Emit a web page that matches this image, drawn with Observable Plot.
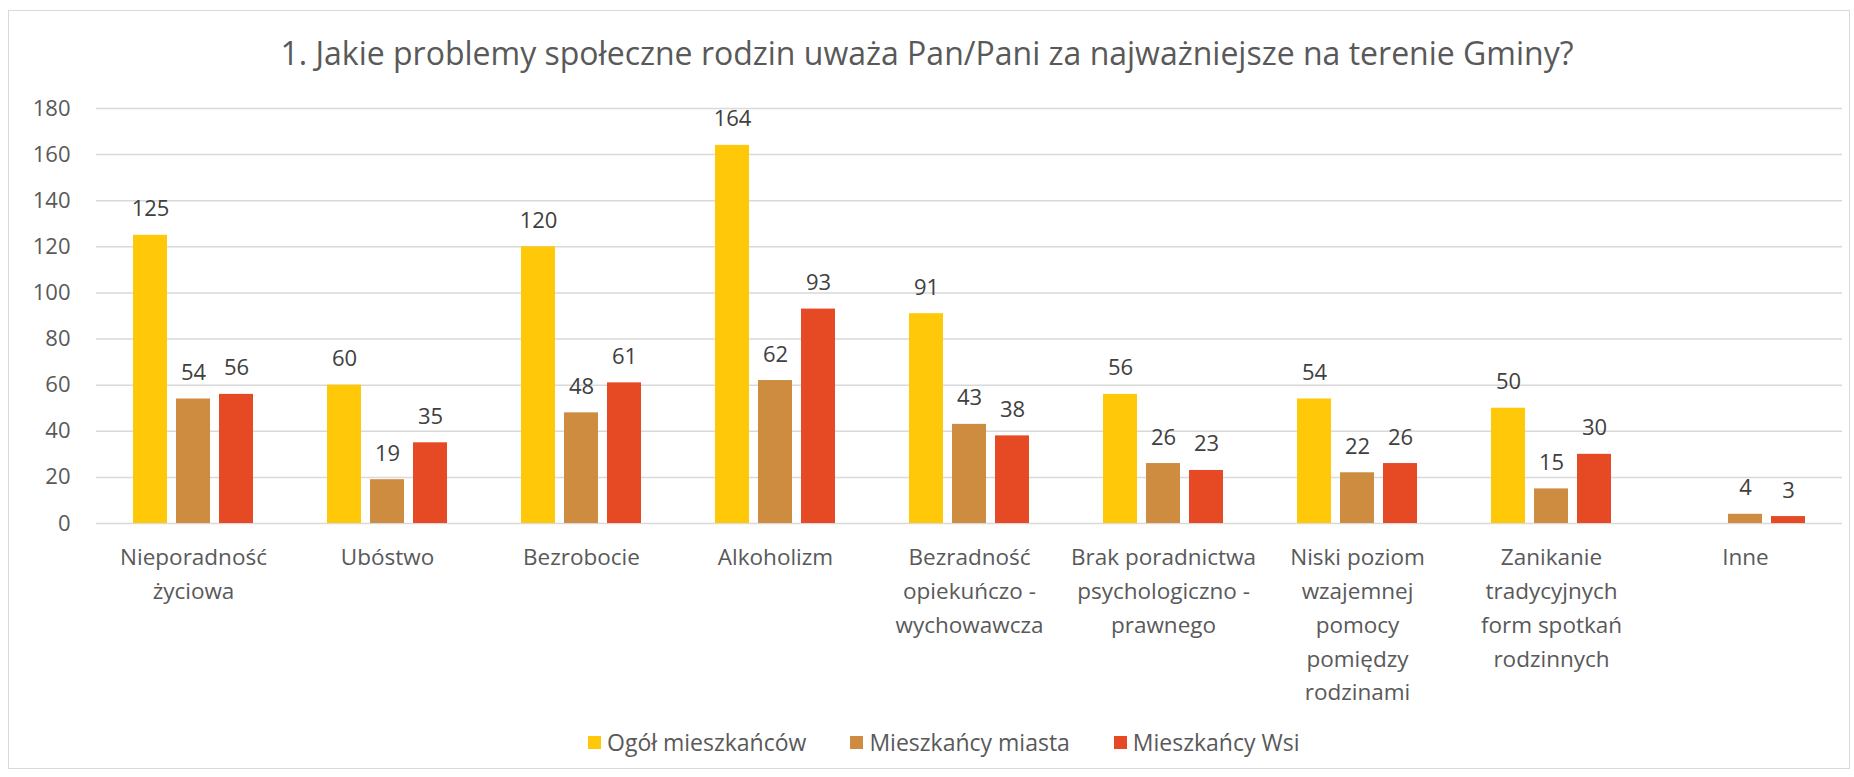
<!DOCTYPE html>
<html>
<head>
<meta charset="utf-8">
<script src="https://cdn.jsdelivr.net/npm/d3@7"></script>
<script src="https://cdn.jsdelivr.net/npm/@observablehq/plot@0.6"></script>
<style>
  html, body { margin: 0; padding: 0; background: #fff; }
  body { width: 1854px; height: 777px; position: relative; overflow: hidden; font-family: "Open Sans", sans-serif; }
  #frame { position: absolute; left: 8px; top: 10px; width: 1842px; height: 759px; border: 1px solid #d9d9d9; box-sizing: border-box; }
  #title { position: absolute; left: 0; top: 32px; width: 1854px; text-align: center; font-size: 32px; color: #595959; line-height: 42px; }
  #chart { position: absolute; left: 0; top: 80px; }
  #legend { position: absolute; left: 588px; top: 727px; display: flex; align-items: center; font-size: 23px; color: #595959; line-height: 30px; }
  .item { display: flex; align-items: center; margin-right: 44px; }
  .sw { width: 13px; height: 13px; margin-right: 6px; }
</style>
</head>
<body>
<div id="frame"></div>
<div id="title"></div>
<div id="chart"></div>
<div id="legend"></div>
<script>
const titleText = "1. Jakie problemy społeczne rodzin uważa Pan/Pani za najważniejsze na terenie Gminy?";
const categories = [
  "Nieporadność\nżyciowa",
  "Ubóstwo",
  "Bezrobocie",
  "Alkoholizm",
  "Bezradność\nopiekuńczo -\nwychowawcza",
  "Brak poradnictwa\npsychologiczno -\nprawnego",
  "Niski poziom\nwzajemnej\npomocy\npomiędzy\nrodzinami",
  "Zanikanie\ntradycyjnych\nform spotkań\nrodzinnych",
  "Inne"
];
const seriesNames = ["Ogół mieszkańców", "Mieszkańcy miasta", "Mieszkańcy Wsi"];
const ogol   = [125, 60, 120, 164, 91, 56, 54, 50, null];
const miasto = [54, 19, 48, 62, 43, 26, 22, 15, 4];
const wies   = [56, 35, 61, 93, 38, 23, 26, 30, 3];
const seriesColors = ["#FFC809", "#CD8C3F", "#E54A25"];
const yTicks = [0, 20, 40, 60, 80, 100, 120, 140, 160, 180];

const seriesValues = [ogol, miasto, wies];
const rows = [];
categories.forEach((c, i) => {
  seriesNames.forEach((s, j) => {
    rows.push({category: c, series: s, value: seriesValues[j][i]});
  });
});
const present = rows.filter(d => d.value != null);

document.getElementById("title").textContent = titleText;

const chart = Plot.plot({
  width: 1854,
  height: 640,
  marginLeft: 92,
  marginRight: 9,
  marginTop: 28,
  marginBottom: 197,
  style: {fontFamily: "Open Sans, sans-serif", background: "transparent"},
  fx: {domain: categories, paddingInner: 0, paddingOuter: 0, label: null},
  x: {domain: seriesNames, paddingInner: 0.21, paddingOuter: 0.854, axis: null},
  y: {domain: [0, 180], label: null},
  color: {domain: seriesNames, range: seriesColors},
  marks: [
    Plot.ruleY(yTicks, {stroke: "#d9d9d9", strokeWidth: 1.5}),
    Plot.axisY({ticks: yTicks, tickSize: 0, tickPadding: 26, fontSize: 22, color: "#595959", label: null}),
    Plot.axisFx({anchor: "bottom", tickSize: 0, tickPadding: 18, fontSize: 22.5, lineHeight: 1.5, color: "#595959", label: null}),
    Plot.barY(present, {fx: "category", x: "series", y: "value", fill: "series"}),
    Plot.text(present, {fx: "category", x: "series", y: "value", text: d => String(d.value), lineAnchor: "bottom", dy: -19, fontSize: 22, fill: "#404040"})
  ]
});
document.getElementById("chart").appendChild(chart);

const legend = document.getElementById("legend");
seriesNames.forEach((s, i) => {
  const item = document.createElement("div");
  item.className = "item";
  const sw = document.createElement("div");
  sw.className = "sw";
  sw.style.background = seriesColors[i];
  const t = document.createElement("span");
  t.textContent = s;
  item.appendChild(sw);
  item.appendChild(t);
  legend.appendChild(item);
});
</script>
</body>
</html>
